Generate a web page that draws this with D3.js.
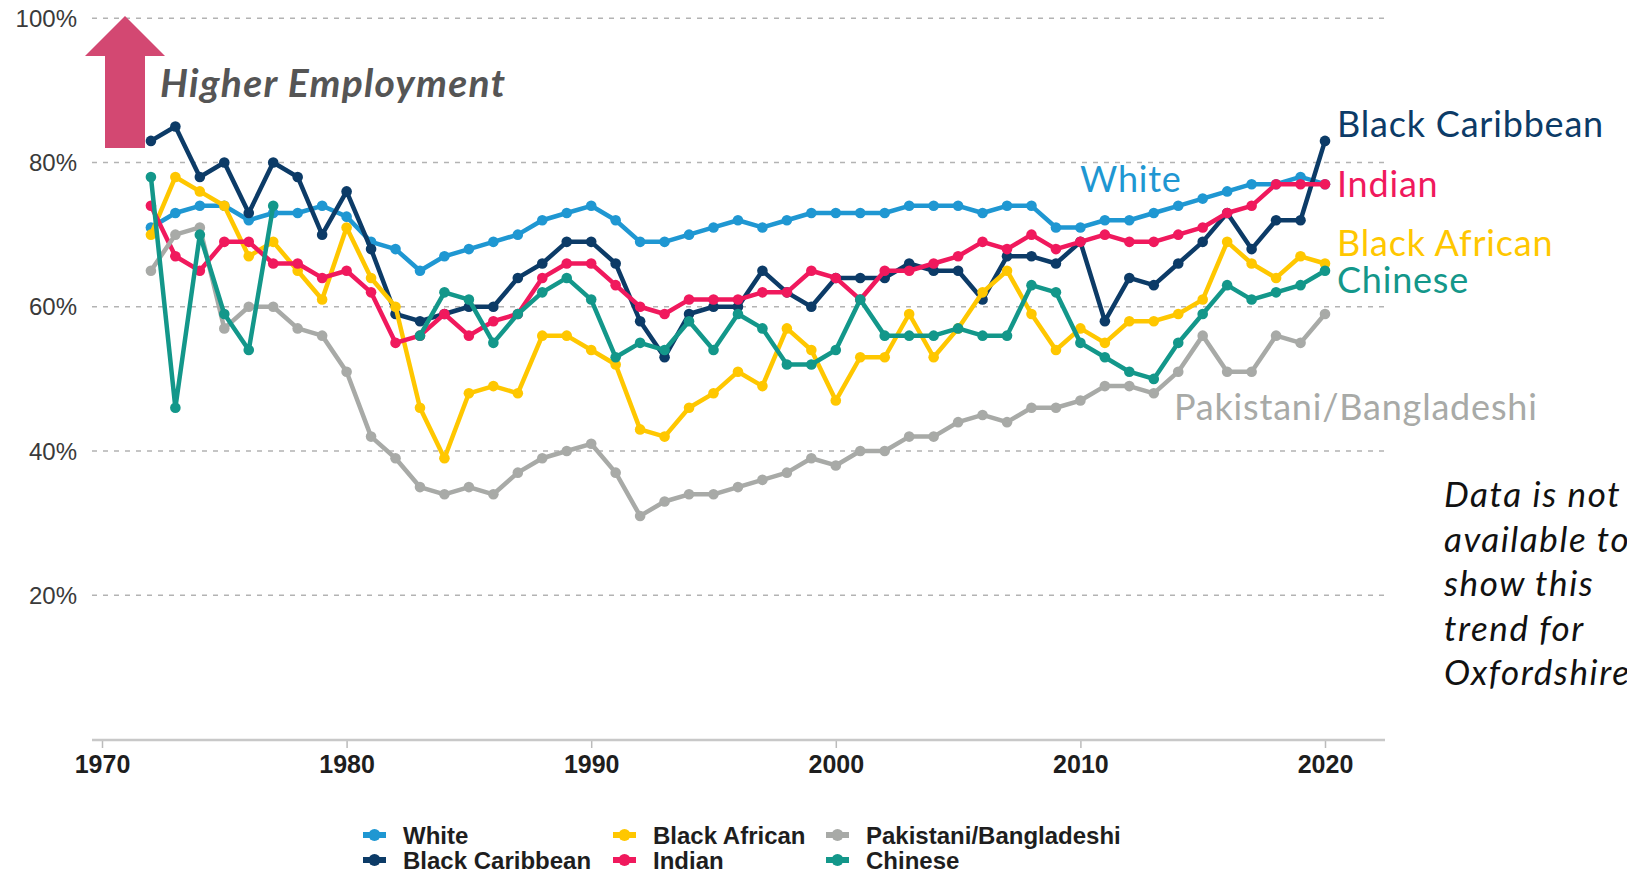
<!DOCTYPE html>
<html>
<head>
<meta charset="utf-8">
<script src="https://cdn.jsdelivr.net/npm/d3@7"></script>
<style>
  body { margin: 0; background: #fff; }
  svg { display: block; }
</style>
</head>
<body>
<script>
var w = 1627;
var h = 873;

var years = d3.range(1972, 2021);
var yTicks = [20, 40, 60, 80, 100];
var xTicks = [1970, 1980, 1990, 2000, 2010, 2020];

var white = [71,73,74,74,72,73,73,74,72.5, 69,68,65,67,68,69,70,72,73,74, 72,69,69,70,71,72,71,72,73,73, 73,73,74,74,74,73,74,74,71,71, 72,72,73,74,75,76,77,77,78,77];
var blackCaribbean = [83,85,78,80,73,80,78,70,76, 68,59,58,59,60,60,64,66,69,69, 66,58,53,59,60,60,65,62,60,64, 64,64,66,65,65,61,67,67,66,69, 58,64,63,66,69,73,68,72,72,83];
var blackAfrican = [70,78,76,74,67,69,65,61,71, 64,60,46,39,48,49,48,56,56,54, 52,43,42,46,48,51,49,57,54,47, 53,53,59,53,57,62,65,59,54,57, 55,58,58,59,61,69,66,64,67,66];
var indian = [74,67,65,69,69,66,66,64,65, 62,55,56,59,56,58,59,64,66,66, 63,60,59,61,61,61,62,62,65,64, 61,65,65,66,67,69,68,70,68,69, 70,69,69,70,71,73,74,77,77,77];
var pakistani = [65,70,71,57,60,60,57,56,51, 42,39,35,34,35,34,37,39,40,41, 37,31,33,34,34,35,36,37,39,38, 40,40,42,42,44,45,44,46,46,47, 49,49,48,51,56,51,51,56,55,59];
var chinese = [78,46,70,59,54,74,null,null,null, null,null,56,62,61,55,59,62,64,61, 53,55,54,58,54,59,57,52,52,54, 61,56,56,56,57,56,56,63,62,55, 53,51,50,55,59,63,61,62,63,65];

var seriesNames = ["White", "Black Caribbean", "Black African", "Indian", "Pakistani/Bangladeshi", "Chinese"];
var seriesValues = [white, blackCaribbean, blackAfrican, indian, pakistani, chinese];
var colors = ["#1f97d2", "#0c3b67", "#ffc700", "#f0195d", "#a8aaa7", "#13978a"];

var svg = d3.select('body')
  .append('svg')
  .attr('width', w)
  .attr('height', h);

var x = d3.scaleLinear().domain([1970, 2020]).range([102, 1325]);
var y = d3.scaleLinear().domain([0, 100]).range([739.5, 18.3]);

// dashed gridlines + y labels
svg.selectAll('line.grid')
  .data(yTicks)
  .enter()
  .append('line')
  .attr('class', 'grid')
  .attr('x1', 92)
  .attr('x2', 1385)
  .attr('y1', function(d) { return y(d); })
  .attr('y2', function(d) { return y(d); })
  .attr('stroke', '#b3b3b3')
  .attr('stroke-width', 1.5)
  .attr('stroke-dasharray', '5,6');

svg.selectAll('text.ylab')
  .data(yTicks)
  .enter()
  .append('text')
  .attr('class', 'ylab')
  .attr('x', 77)
  .attr('y', function(d) { return y(d); })
  .attr('dy', '0.36em')
  .attr('text-anchor', 'end')
  .attr('font-family', 'Liberation Sans, Arial, sans-serif')
  .attr('font-size', '24px')
  .attr('fill', '#3a3a3a')
  .text(function(d) { return d + '%'; });

// x axis
var xAxis = svg.append('g')
  .attr('transform', 'translate(0,740)')
  .call(d3.axisBottom(x).tickValues(xTicks).tickFormat(d3.format('d')).tickSize(8).tickSizeOuter(0));
xAxis.select('.domain').remove();
xAxis.append('line')
  .attr('x1', 92).attr('x2', 1385)
  .attr('stroke', '#c8c8c8')
  .attr('stroke-width', 2.5);
xAxis.selectAll('.tick line').attr('stroke', '#bbbbbb').attr('stroke-width', 1.5);
xAxis.selectAll('.tick text')
  .attr('y', 33)
  .attr('dy', 0)
  .attr('font-family', 'Liberation Sans, Arial, sans-serif')
  .attr('font-size', '25px')
  .attr('font-weight', 'bold')
  .attr('fill', '#1e1e1e');

// lines and dots
var line = d3.line()
  .defined(function(d) { return d != null; })
  .x(function(d, i) { return x(years[i]); })
  .y(function(d) { return y(d); });

seriesValues.forEach(function(vals, k) {
  svg.append('path')
    .attr('d', line(vals))
    .attr('fill', 'none')
    .attr('stroke', colors[k])
    .attr('stroke-width', 4.5)
    .attr('stroke-linejoin', 'round');
  svg.append('g').selectAll('circle')
    .data(vals.map(function(v, i) { return [years[i], v]; }).filter(function(d) { return d[1] != null; }))
    .enter()
    .append('circle')
    .attr('cx', function(d) { return x(d[0]); })
    .attr('cy', function(d) { return y(d[1]); })
    .attr('r', 5.3)
    .attr('fill', colors[k]);
});

// series labels at the right
var labels = [
  { name: "Black Caribbean", x: 1337, y: 137, c: 1 },
  { name: "White", x: 1080, y: 192, c: 0 },
  { name: "Indian", x: 1337, y: 197, c: 3 },
  { name: "Black African", x: 1337, y: 256, c: 2 },
  { name: "Chinese", x: 1337, y: 293, c: 5 },
  { name: "Pakistani/Bangladeshi", x: 1174, y: 420, c: 4 }
];
svg.selectAll('text.slab')
  .data(labels)
  .enter()
  .append('text')
  .attr('class', 'slab')
  .attr('x', function(d) { return d.x; })
  .attr('y', function(d) { return d.y; })
  .attr('font-family', 'Lato, sans-serif')
  .attr('font-size', '36px')
  .attr('letter-spacing', '0.8px')
  .attr('fill', function(d) { return colors[d.c]; })
  .text(function(d) { return d.name; });

// arrow + "Higher Employment"
svg.append('polygon')
  .attr('points', '125,16 165,56 145,56 145,148 105,148 105,56 85,56')
  .attr('fill', '#d34872');
svg.append('text')
  .attr('x', 160)
  .attr('y', 97)
  .attr('font-family', 'Lato, sans-serif')
  .attr('font-size', '39px')
  .attr('font-style', 'italic')
  .attr('font-weight', 'bold')
  .attr('letter-spacing', '1.3px')
  .attr('fill', '#555555')
  .text('Higher Employment');

// note on the right
var note = ["Data is not", "available to", "show this", "trend for", "Oxfordshire"];
svg.selectAll('text.note')
  .data(note)
  .enter()
  .append('text')
  .attr('class', 'note')
  .attr('x', 1444)
  .attr('y', function(d, i) { return 507 + i * 44.6; })
  .attr('font-family', 'Lato, sans-serif')
  .attr('font-size', '35px')
  .attr('font-style', 'italic')
  .attr('letter-spacing', '1.6px')
  .attr('fill', '#111')
  .text(function(d) { return d; });

// legend, 3 columns x 2 rows
var legendX = [363, 613, 826];
var legendY = [835, 860];
var legend = svg.append('g').selectAll('g')
  .data(seriesNames)
  .enter()
  .append('g')
  .attr('transform', function(d, i) {
    return 'translate(' + legendX[Math.floor(i / 2)] + ',' + legendY[i % 2] + ')';
  });
legend.append('line')
  .attr('x1', 0).attr('x2', 23)
  .attr('stroke', function(d, i) { return colors[i]; })
  .attr('stroke-width', 6);
legend.append('circle')
  .attr('cx', 11.5)
  .attr('r', 6)
  .attr('fill', function(d, i) { return colors[i]; });
legend.append('text')
  .attr('x', 40)
  .attr('dy', '0.36em')
  .attr('font-family', 'Liberation Sans, Arial, sans-serif')
  .attr('font-size', '24px')
  .attr('font-weight', 'bold')
  .attr('fill', '#1e1e1e')
  .text(function(d) { return d; });
</script>
</body>
</html>
